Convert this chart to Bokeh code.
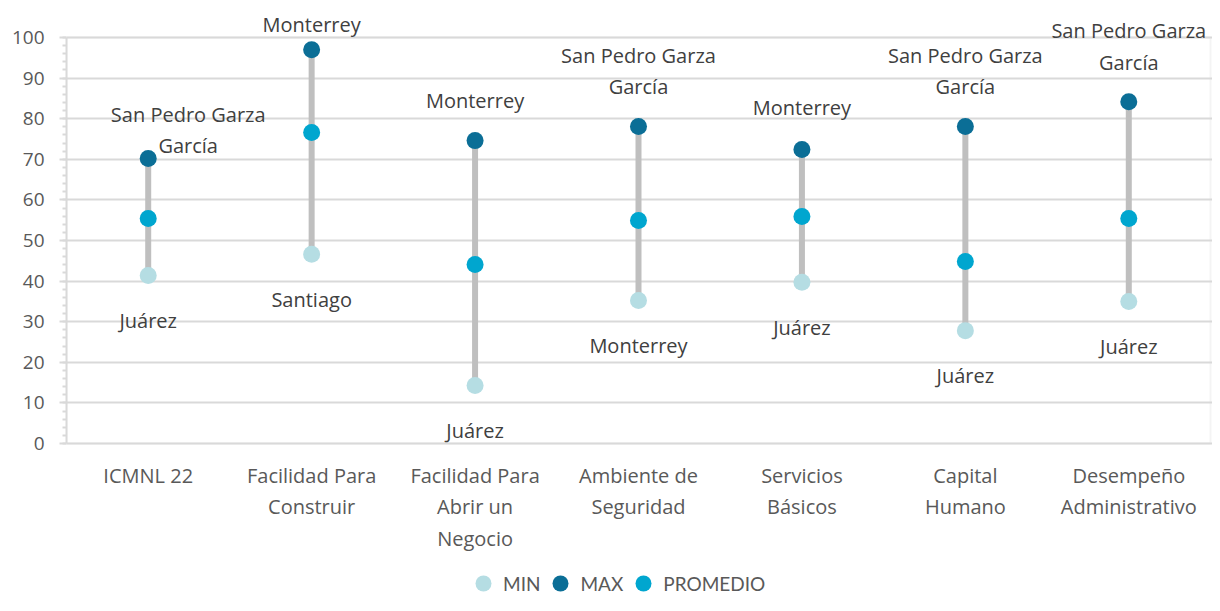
from bokeh.plotting import figure
from bokeh.models import Range1d, FixedTicker, ColumnDataSource, Legend, LegendItem, BoxAnnotation
from bokeh.core.properties import value
from bokeh.embed import file_html
from bokeh.resources import INLINE

categories = ["ICMNL 22", "Facilidad Para\nConstruir", "Facilidad Para\nAbrir un\nNegocio",
              "Ambiente de\nSeguridad", "Servicios\nBásicos", "Capital\nHumano",
              "Desempeño\nAdministrativo"]
min_vals = [41.4, 46.6, 14.3, 35.2, 39.7, 27.8, 35.0]
max_vals = [70.2, 97.0, 74.6, 78.1, 72.4, 78.1, 84.2]
avg_vals = [55.4, 76.6, 44.1, 54.9, 55.9, 44.8, 55.4]
min_names = ["Juárez", "Santiago", "Juárez", "Monterrey", "Juárez", "Juárez", "Juárez"]
max_names = ["San Pedro Garza García", "Monterrey", "Monterrey", "San Pedro Garza García",
             "Monterrey", "San Pedro Garza García", "San Pedro Garza García"]

FONT = "Open Sans"
C_MIN = "#b5dde3"
C_MAX = "#0b6e96"
C_AVG = "#00a6cf"
GRID = "#d9d9d9"

xs = list(range(len(categories)))

# The frame covers the whole figure height; the 0-100 plot area is marked by a box.
W, H = 1212, 603
LEFT = 66
PLOT_BOTTOM, PLOT_RIGHT = 443, 1210
PX_PER_Y = (PLOT_BOTTOM - 37) / 100.0
Y_TOP = PLOT_BOTTOM / PX_PER_Y
Y_BOT = -(H - PLOT_BOTTOM) / PX_PER_Y
PX_PER_X = (PLOT_RIGHT - LEFT) / 7.0
X_END = -0.5 + (W - LEFT) / PX_PER_X

p = figure(width=W, height=H, output_backend="svg", toolbar_location=None,
           x_range=Range1d(-0.5, X_END), y_range=Range1d(Y_BOT, Y_TOP),
           min_border_left=LEFT, min_border_right=0, min_border_top=0, min_border_bottom=0)
p.outline_line_color = None
p.background_fill_color = "white"
p.border_fill_color = "white"
p.xaxis.visible = False
p.xgrid.grid_line_color = None

# y axis
p.yaxis.ticker = FixedTicker(ticks=list(range(0, 101, 10)),
                             minor_ticks=list(range(0, 101, 2)))
p.yaxis.bounds = (0, 100)
p.yaxis.axis_line_color = GRID
p.yaxis.axis_line_width = 2
p.yaxis.major_tick_line_color = GRID
p.yaxis.major_tick_line_width = 2
p.yaxis.major_tick_out = 7
p.yaxis.major_tick_in = 0
p.yaxis.minor_tick_line_color = GRID
p.yaxis.minor_tick_line_width = 2
p.yaxis.minor_tick_out = 4
p.yaxis.minor_tick_in = 0
p.yaxis.major_label_text_font = FONT
p.yaxis.major_label_text_font_size = "19px"
p.yaxis.major_label_text_color = "#595959"
p.yaxis.major_label_standoff = 15

p.ygrid.grid_line_color = GRID
p.ygrid.grid_line_width = 2

# plot-area border
p.add_layout(BoxAnnotation(left=-0.5, right=6.5, bottom=0, top=100, fill_alpha=0,
                           line_color=GRID, line_width=2, level="underlay"))

src = ColumnDataSource(dict(x=xs, zero=[0] * len(xs), cat=categories,
                            mn=min_vals, mx=max_vals, av=avg_vals,
                            mn_lab=min_names,
                            mx_lab=[n.replace("Garza ", "Garza\n") for n in max_names]))

# category labels
p.text("x", "zero", text="cat", source=src, y_offset=18, text_align="center",
       text_baseline="top", text_font=value(FONT), text_font_size="20px",
       text_color="#595959", text_line_height=1.18)

p.segment(x0="x", y0="mn", x1="x", y1="mx", source=src, line_color="#bfbfbf", line_width=6)
r_min = p.scatter("x", "mn", source=src, size=17, fill_color=C_MIN, line_color=None)
r_max = p.scatter("x", "mx", source=src, size=17, fill_color=C_MAX, line_color=None)
r_avg = p.scatter("x", "av", source=src, size=17, fill_color=C_AVG, line_color=None)

# data label offsets (screen px, positive y_offset moves down)
src.data["mdx"] = [40, 0, 0, 0, 0, 0, 0]
src.data["mdy"] = [1, -12, -27, -26, -29, -26, -26]

p.text("x", "mx", text="mx_lab", source=src, x_offset="mdx", y_offset="mdy",
       text_align="center", text_baseline="bottom", text_font=value(FONT),
       text_font_size="20px", text_color="#404040", text_line_height=1.18)
p.text("x", "mn", text="mn_lab", source=src, y_offset=45,
       text_align="center", text_baseline="middle", text_font=value(FONT),
       text_font_size="20px", text_color="#404040")

legend = Legend(items=[LegendItem(label="MIN", renderers=[r_min]),
                       LegendItem(label="MAX", renderers=[r_max]),
                       LegendItem(label="PROMEDIO", renderers=[r_avg])],
                orientation="horizontal", location=(397, 0),
                glyph_width=40, glyph_height=40, label_standoff=0, spacing=0,
                padding=0, margin=0, border_line_color=None, background_fill_alpha=0,
                label_text_font="Lato", label_text_font_size="19px",
                label_text_color="#595959")
p.add_layout(legend, "center")

open("out.html", "w").write(file_html(p, INLINE))
